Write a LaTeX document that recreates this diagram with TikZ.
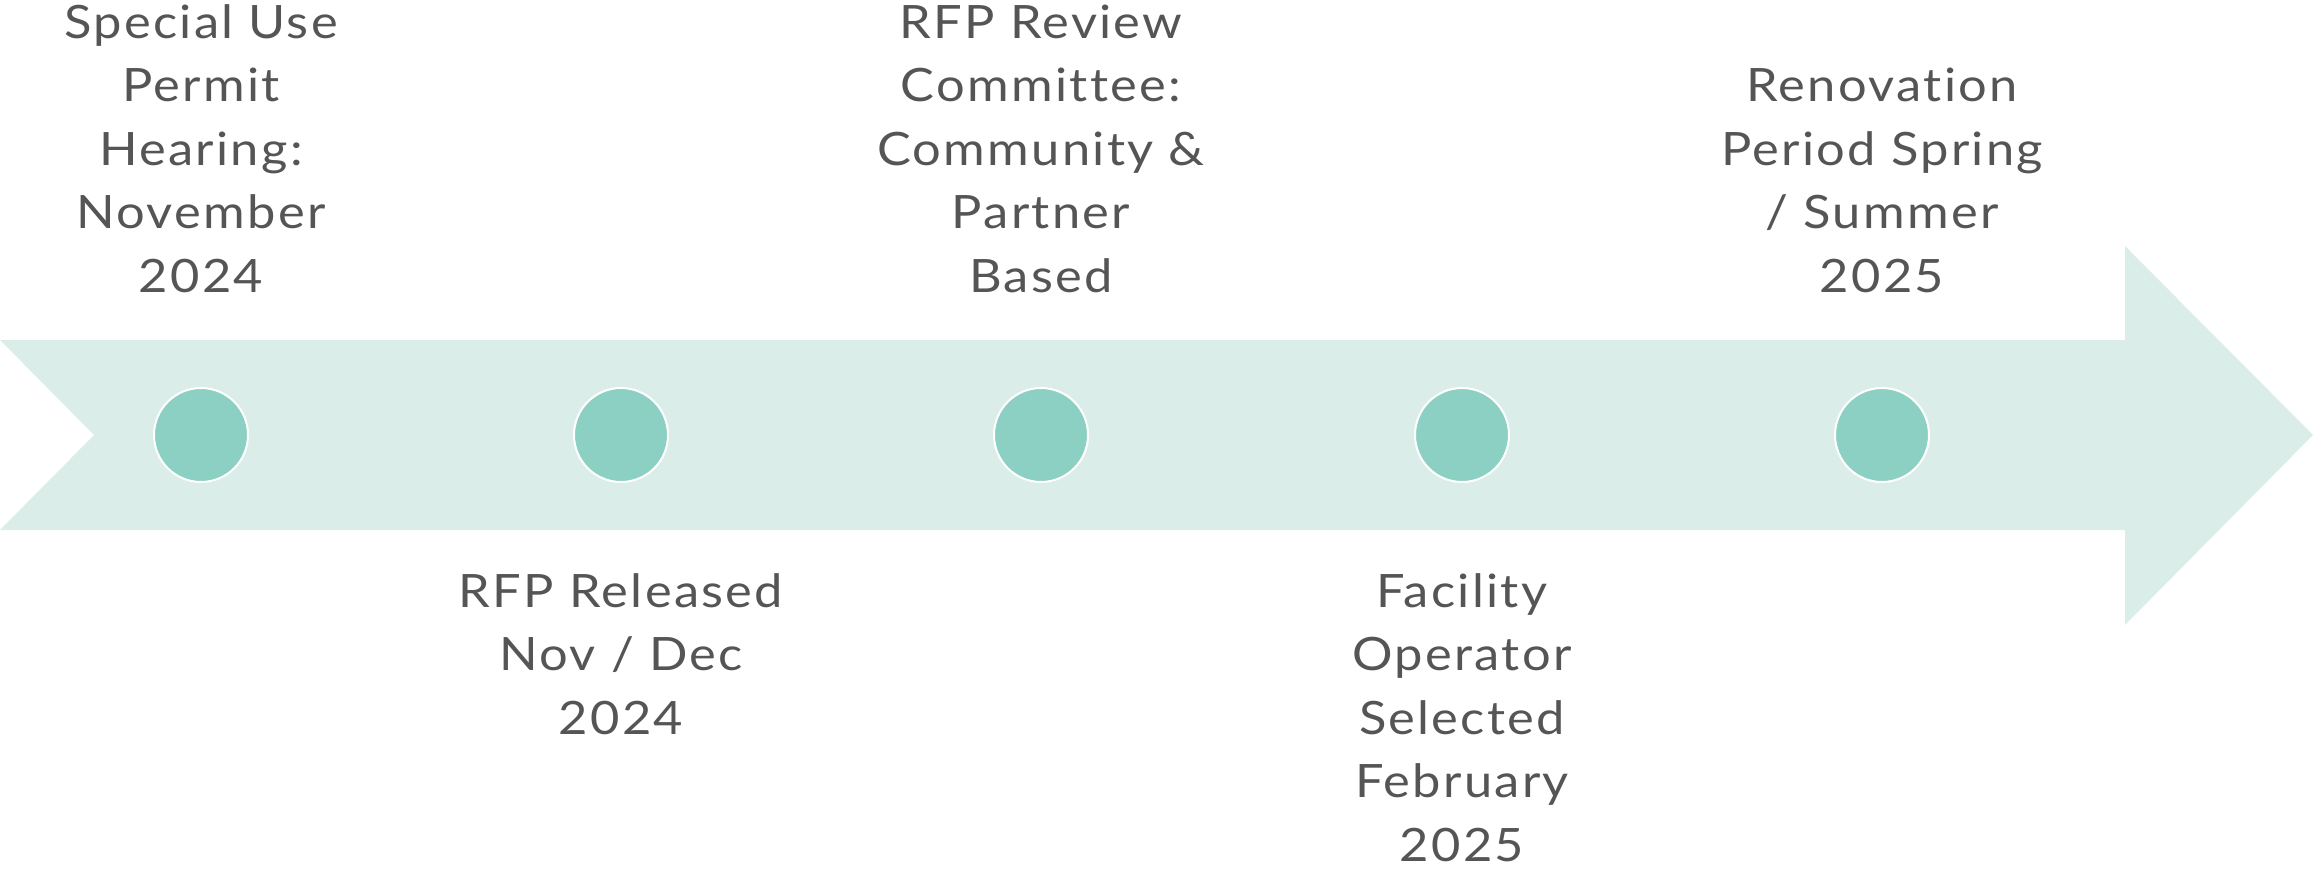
\documentclass[tikz,border=0pt]{standalone}
\usepackage{fontspec}
\setmainfont{Lato}[FakeStretch=1.1, LetterSpace=5, Ligatures=NoCommon]
\definecolor{bandgreen}{HTML}{DBEDE8}
\definecolor{dotgreen}{HTML}{8CD0C3}
\definecolor{labelgray}{HTML}{555555}
\tikzset{lbl/.style={align=center, inner sep=0pt, text=labelgray, font=\fontsize{46}{63.5}\selectfont}}

\begin{document}
\begin{tikzpicture}[x=1pt,y=1pt]
			%%%%% START %%%%%
			
			\useasboundingbox (0,0) rectangle (2313,-869);
			
			\fill[bandgreen] (0,-340) -- (2125,-340) -- (2125,-246) -- (2313,-435) -- (2125,-625) -- (2125,-530) -- (0,-530) -- (94,-435) -- cycle;
			
			\draw[line width=2pt, color=white, fill=dotgreen] (201,-435) circle (47pt);
			\draw[line width=2pt, color=white, fill=dotgreen] (621,-435) circle (47pt);
			\draw[line width=2pt, color=white, fill=dotgreen] (1041,-435) circle (47pt);
			\draw[line width=2pt, color=white, fill=dotgreen] (1462,-435) circle (47pt);
			\draw[line width=2pt, color=white, fill=dotgreen] (1882,-435) circle (47pt);
			
			\node[lbl, anchor=south] (permit) at (201,-293) {Special Use\\Permit\\Hearing:\\November\\2024};
			\node[lbl, anchor=north] (released) at (621,-573) {RFP Released\\Nov / Dec\\2024};
			\node[lbl, anchor=south] (review) at (1041,-293) {RFP Review\\Committee:\\Community \&\\Partner\\Based};
			\node[lbl, anchor=north] (operator) at (1462,-573) {Facility\\Operator\\Selected\\February\\2025};
			\node[lbl, anchor=south] (renovation) at (1882,-293) {Renovation\\Period Spring\\/ Summer\\2025};
			
			%%%%% END %%%%%
\end{tikzpicture}
\end{document}
